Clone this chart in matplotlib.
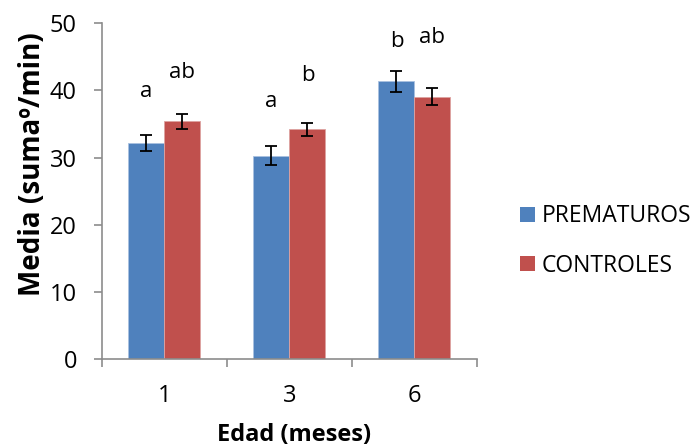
import matplotlib
matplotlib.use("Agg")
import matplotlib.pyplot as plt
from matplotlib.patches import Patch
import numpy as np

plt.rcParams['font.family'] = ['Open Sans', 'DejaVu Sans']

categories = ["1", "3", "6"]
series_names = ["PREMATUROS", "CONTROLES"]
prematuros = [32.2, 30.3, 41.4]
controles = [35.4, 34.2, 39.1]
prematuros_err = [1.15, 1.4, 1.55]
controles_err = [1.1, 1.0, 1.3]
prematuros_letters = ["a", "a", "b"]
controles_letters = ["ab", "b", "ab"]
prematuros_letter_y = [39.0, 37.5, 46.5]
controles_letter_y = [41.8, 41.4, 47.1]

blue = "#4F81BD"
red = "#C0504D"
axis_gray = "#8C8C8C"

fig = plt.figure(figsize=(6.97, 4.48), dpi=100)
ax = fig.add_axes([0.1463, 0.198, 0.538, 0.750])

x = np.arange(len(categories))
w = 0.288
ekw = dict(ecolor="black", elinewidth=1.3, capsize=4.5, capthick=1.3)
ax.bar(x - w / 2, prematuros, w, color=blue, edgecolor="#A9C1E0", linewidth=0.6,
       yerr=prematuros_err, error_kw=ekw, label=series_names[0], zorder=2)
ax.bar(x + w / 2, controles, w, color=red, edgecolor="#DDA3A1", linewidth=0.6,
       yerr=controles_err, error_kw=ekw, label=series_names[1], zorder=2)

letter_fs = 16
for i in range(len(categories)):
    ax.text(x[i] - w / 2, prematuros_letter_y[i], prematuros_letters[i],
            ha="center", va="baseline", fontsize=letter_fs, color="black")
    ax.text(x[i] + w / 2, controles_letter_y[i], controles_letters[i],
            ha="center", va="baseline", fontsize=letter_fs, color="black")

tick_fs = 17
ax.set_xlim(-0.5, len(categories) - 0.5)
ax.set_ylim(0, 50)
ax.set_yticks(np.arange(0, 51, 10))
ax.set_xticks(x)
ax.set_xticklabels(categories)
ax.set_xticks(np.arange(-0.5, len(categories), 1.0), minor=True)
ax.tick_params(axis="x", which="major", length=0, pad=18, labelsize=tick_fs)
ax.tick_params(axis="x", which="minor", length=6, width=1.2, color=axis_gray, direction="out")
ax.tick_params(axis="y", length=6, width=1.2, color=axis_gray, direction="out", pad=12,
               labelsize=tick_fs)

for s in ["top", "right"]:
    ax.spines[s].set_visible(False)
for s in ["left", "bottom"]:
    ax.spines[s].set_color(axis_gray)
    ax.spines[s].set_linewidth(1.2)

ax.set_ylabel("Media (sumaº/min)", fontsize=20, fontweight="bold", va="center")
ax.yaxis.set_label_coords(-0.184, 0.58)
ax.set_xlabel("Edad (meses)", fontsize=17, fontweight="bold", va="center")
ax.xaxis.set_label_coords(0.511, -0.225)

handles = [Patch(facecolor=blue, edgecolor="none"), Patch(facecolor=red, edgecolor="none")]
fig.legend(handles, series_names, loc="center left", bbox_to_anchor=(0.746, 0.462),
           frameon=False, fontsize=16.5, handlelength=0.66, handleheight=0.66,
           handletextpad=0.3, labelspacing=1.1, borderpad=0, borderaxespad=0)

fig.savefig("out.png", dpi=100)
